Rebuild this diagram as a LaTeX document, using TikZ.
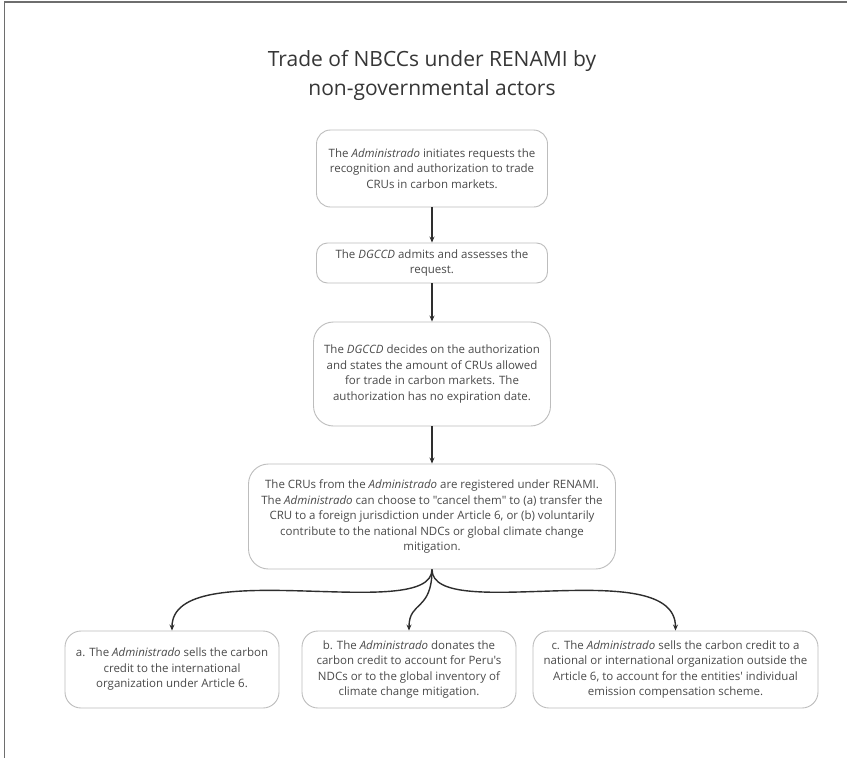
\documentclass[tikz,border=0pt]{standalone}
\usepackage{fontspec}
\setmainfont{Open Sans}[Ligatures=TeXOff]
\usetikzlibrary{arrows.meta,calc}
\definecolor{framegray}{HTML}{6E6E6E}
\definecolor{boxline}{HTML}{BDBDBD}
\definecolor{boxtext}{HTML}{4A4A4A}
\definecolor{titletext}{HTML}{363636}
\definecolor{arrowcol}{HTML}{2E2E2E}

\begin{document}
\begin{tikzpicture}[x=1pt,y=-1pt,
  stepbox/.style={draw=boxline, line width=0.9pt, rounded corners=14pt, fill=white,
    align=center, text=boxtext, font=\fontsize{11.5}{15.5}\selectfont, inner sep=2pt},
  flow/.style={draw=arrowcol, line width=1.4pt, -{Stealth[length=6pt,width=5pt]}},
  frame/.style={draw=framegray, line width=1.6pt},
]
% canvas and the two frame edges
\useasboundingbox (0,0) rectangle (847,758);
\fill[white] (0,0) rectangle (847,758);
\coordinate (ftl) at (4.5,2);
\coordinate (ftr) at (847,2);
\coordinate (fbl) at (4.5,758);
\draw[frame] (ftr) -- (ftl) -- (fbl);

% title
\node[font=\fontsize{21}{29}\selectfont, text=titletext, align=center, inner sep=0pt]
  (title) at (432,75) {Trade of NBCCs under RENAMI by\\non-governmental actors};

% main sequence
\node[stepbox, minimum width=231pt, minimum height=77pt] (req) at (432,168.5)
  {The \textit{Administrado} initiates requests the\\recognition and authorization to trade\\CRUs in carbon markets.};
\node[stepbox, rounded corners=11pt, minimum width=231pt, minimum height=40pt] (adm) at (432,263)
  {The \textit{DGCCD} admits and assesses the\\request.};
\node[stepbox, rounded corners=20pt, minimum width=237pt, minimum height=104pt] (dec) at (432,374)
  {The \textit{DGCCD} decides on the authorization\\and states the amount of CRUs allowed\\for trade in carbon markets. The\\authorization has no expiration date.};
\node[stepbox, rounded corners=20pt, minimum width=367pt, minimum height=105pt] (reg) at (432,516.5)
  {The CRUs from the \textit{Administrado} are registered under RENAMI.\\The \textit{Administrado} can choose to "cancel them" to (a) transfer the\\CRU to a foreign jurisdiction under Article 6, or (b) voluntarily\\contribute to the national NDCs or global climate change\\mitigation.};

% outcomes
\node[stepbox, rounded corners=16pt, minimum width=214pt, minimum height=77pt] (sa) at (172,669.5)
  {a. The \textit{Administrado} sells the carbon\\credit to the international\\organization under Article 6.};
\node[stepbox, rounded corners=16pt, minimum width=214pt, minimum height=77pt] (sb) at (409,669.5)
  {b. The \textit{Administrado} donates the\\carbon credit to account for Peru's\\NDCs or to the global inventory of\\climate change mitigation.};
\node[stepbox, rounded corners=16pt, minimum width=285pt, minimum height=77pt] (sc) at (675.5,669.5)
  {c. The \textit{Administrado} sells the carbon credit to a\\national or international organization outside the\\Article 6, to account for the entities' individual\\emission compensation scheme.};

% connectors
\draw[flow] (req.south) -- (adm.north);
\draw[flow] (adm.south) -- (dec.north);
\draw[flow] (dec.south) -- (reg.north);
\draw[flow] (reg.south) .. controls ($(reg.south)+(0,55)$) and ($(sa.north)+(0,-78)$) .. (sa.north);
\draw[flow] (reg.south) .. controls ($(reg.south)+(0,42)$) and ($(sb.north)+(0,-30)$) .. (sb.north);
\draw[flow] (reg.south) .. controls ($(reg.south)+(0,55)$) and ($(sc.north)+(0,-78)$) .. (sc.north);
\end{tikzpicture}
\end{document}
